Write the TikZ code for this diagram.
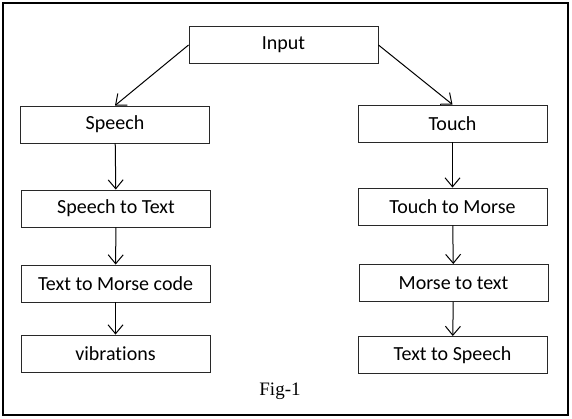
\documentclass[tikz,border=0pt]{standalone}
\usepackage{fontspec}
\setmainfont{Carlito}[Ligatures=NoCommon]
\newfontfamily\capfont{Liberation Serif}
\usetikzlibrary{positioning,arrows.meta}
\definecolor{boxLine}{RGB}{40,40,40}
\tikzset{
    base/.style={font=\fontsize{20}{24}\selectfont, align=center},
    stage/.style={base, rectangle, draw=boxLine, line width=0.9pt, fill=white,
                  minimum width=189pt, minimum height=37pt, inner sep=0pt},
    flow/.style={-{Straight Barb[length=9pt,width=15pt,line width=1pt]}, line width=1pt, color=black},
    caption/.style={font=\capfont\fontsize{19}{22}\selectfont, inner sep=0pt}
}
\begin{document}
\begin{tikzpicture}[x=1pt,y=-1pt]
  \useasboundingbox (0,0) rectangle (572,419);
  \draw[line width=2.2pt] (3,3) rectangle (568,415);

  \node[stage] (input) at (283.5,45) {Input};

  % left branch
  \node[stage] (speech) at (115,124.5) {Speech};
  \node[stage] (s2t) at (116,208.5) {Speech to Text};
  \node[stage] (t2m) at (115.5,283.5) {Text to Morse code};
  \node[stage] (vib) at (115.5,353.5) {vibrations};

  % right branch
  \node[stage] (touch) at (452.5,123.5) {Touch};
  \node[stage] (tm) at (452.5,206.5) {Touch to Morse};
  \node[stage] (m2t) at (453.5,283) {Morse to text};
  \node[stage] (t2s) at (452.5,355) {Text to Speech};

  \node[caption] (fig) at (280,391) {Fig-1};

  \draw[flow] (input.west) -- (speech.north);
  \draw[flow] (input.east) -- (touch.north);
  \draw[flow] (speech) -- (s2t);
  \draw[flow] (s2t) -- (t2m);
  \draw[flow] (t2m) -- (vib);
  \draw[flow] (touch) -- (tm);
  \draw[flow] (tm) -- (m2t);
  \draw[flow] (m2t) -- (t2s);
\end{tikzpicture}
\end{document}
